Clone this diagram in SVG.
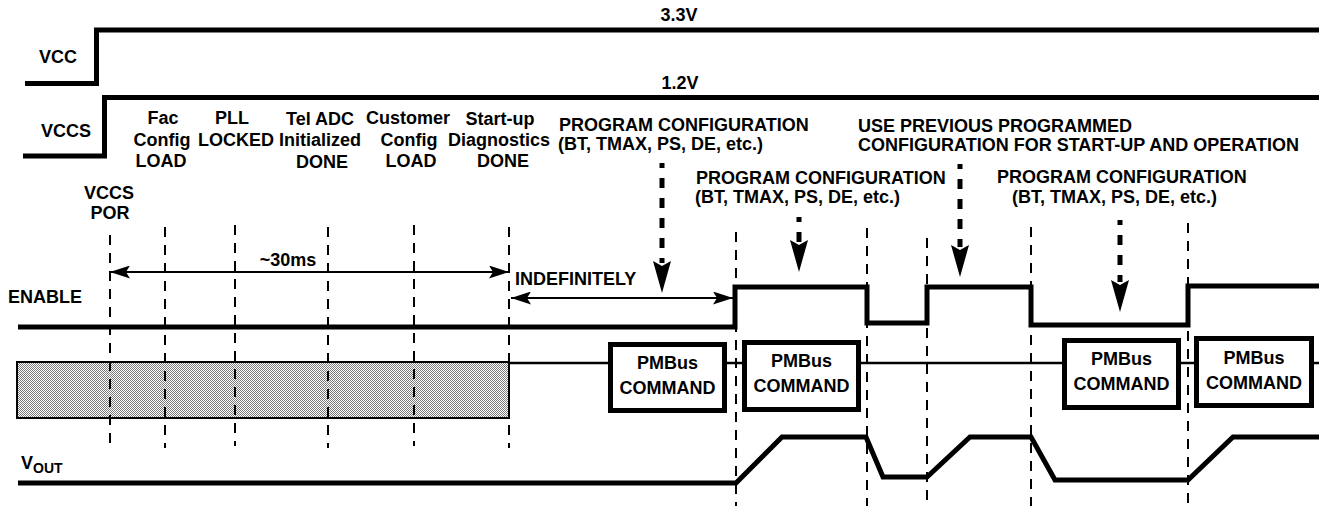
<svg xmlns="http://www.w3.org/2000/svg" width="1319" height="506" viewBox="0 0 1319 506">
<style>
text{font-family:"Liberation Sans",Arial,sans-serif;font-weight:bold;font-size:18px;fill:#000}
.m{text-anchor:middle}
.sig{fill:none;stroke:#000;stroke-width:5;stroke-linejoin:miter}
.thin{fill:none;stroke:#000;stroke-width:2.5}
.box{fill:#fff;stroke:#000;stroke-width:5}
.dl{stroke:#000;stroke-width:2;stroke-dasharray:10 8;fill:none}
.arr{stroke:#000;stroke-width:2;fill:none;marker-start:url(#ah);marker-end:url(#ah)}
.bold{stroke:#000;stroke-width:5;stroke-dasharray:10 10;stroke-dashoffset:5;fill:none;marker-end:url(#big)}
</style>
<defs>
<marker id="ah" viewBox="0 0 20 13" refX="20" refY="6.5" markerWidth="20" markerHeight="13" markerUnits="userSpaceOnUse" orient="auto-start-reverse">
<path d="M0,0 L20,6.5 L0,13 L4,6.5 Z" fill="#000"/>
</marker>
<marker id="big" viewBox="0 0 32 18" refX="2" refY="9" markerWidth="32" markerHeight="18" markerUnits="userSpaceOnUse" orient="auto">
<path d="M0,0 L32,9 L0,18 L5,9 Z" fill="#000"/>
</marker>
<pattern id="dots" width="2" height="2" patternUnits="userSpaceOnUse">
<rect width="2" height="2" fill="#ffffff"/>
<rect width="1" height="1" fill="#7a7a7a"/>
<rect x="1" y="1" width="1" height="1" fill="#7a7a7a"/>
</pattern>
</defs>
<rect width="1319" height="506" fill="#fff"/>

<g id="vcc">
<path class="sig" d="M25,83.5 H96.5 V30 H1319"/>
<text class="m" x="58" y="63">VCC</text>
<text class="m" x="679" y="21">3.3V</text>
</g>
<g id="vccs">
<path class="sig" d="M23,156 H104.5 V97.5 H1319"/>
<text class="m" x="66" y="137">VCCS</text>
<text class="m" x="680" y="89">1.2V</text>
</g>

<g id="startup-labels">
<text class="m" x="163" y="124">Fac</text>
<text class="m" x="162" y="146">Config</text>
<text class="m" x="161" y="167">LOAD</text>
<text class="m" x="232" y="124">PLL</text>
<text class="m" x="236" y="146">LOCKED</text>
<text class="m" x="320" y="125">Tel ADC</text>
<text class="m" x="320" y="146">Initialized</text>
<text class="m" x="322" y="168">DONE</text>
<text class="m" x="408" y="124">Customer</text>
<text class="m" x="409" y="146">Config</text>
<text class="m" x="411" y="167">LOAD</text>
<text class="m" x="500" y="125">Start-up</text>
<text class="m" x="499" y="146">Diagnostics</text>
<text class="m" x="503" y="167">DONE</text>
<text class="m" x="109" y="199">VCCS</text>
<text class="m" x="110" y="219">POR</text>
</g>

<g id="config-labels">
<text x="559" y="131">PROGRAM CONFIGURATION</text>
<text x="558" y="150">(BT, TMAX, PS, DE, etc.)</text>
<text x="858" y="132">USE PREVIOUS PROGRAMMED</text>
<text x="858" y="151">CONFIGURATION FOR START-UP AND OPERATION</text>
<text x="696" y="184">PROGRAM CONFIGURATION</text>
<text x="695" y="203">(BT, TMAX, PS, DE, etc.)</text>
<text x="997" y="183">PROGRAM CONFIGURATION</text>
<text x="1012" y="203">(BT, TMAX, PS, DE, etc.)</text>
</g>

<g id="enable">
<path class="sig" d="M18,327 H735 V287 H867 V323 H927 V287 H1031 V325 H1188 V286 H1319"/>
<text x="8" y="303">ENABLE</text>
</g>

<g id="pmbus-bus">
<line class="thin" x1="509" y1="363" x2="1319" y2="363"/>
<rect x="17" y="362" width="492" height="56" fill="url(#dots)" stroke="#000" stroke-width="2"/>
</g>

<g id="cmd1">
<rect class="box" x="610.5" y="344.5" width="114" height="66"/>
<text class="m" x="667.5" y="369">PMBus</text>
<text class="m" x="667.5" y="394">COMMAND</text>
</g>
<g id="cmd2">
<rect class="box" x="744.5" y="342.5" width="114" height="67"/>
<text class="m" x="801.5" y="367">PMBus</text>
<text class="m" x="801.5" y="392">COMMAND</text>
</g>
<g id="cmd3">
<rect class="box" x="1064.5" y="340.5" width="114" height="67"/>
<text class="m" x="1121.5" y="365">PMBus</text>
<text class="m" x="1121.5" y="390">COMMAND</text>
</g>
<g id="cmd4">
<rect class="box" x="1196.5" y="338.5" width="115" height="67"/>
<text class="m" x="1254" y="364">PMBus</text>
<text class="m" x="1254" y="389">COMMAND</text>
</g>

<g id="vout">
<path class="sig" d="M18,483 H736 L782,437 H866 L883,477 H927 L970,437 H1031 L1055,480 H1188 L1233,437 H1319"/>
<text x="21" y="469">V<tspan font-size="14" dy="4">OUT</tspan></text>
</g>

<g id="connectors">
<line class="dl" x1="110" y1="235" x2="110" y2="448"/>
<line class="dl" x1="165" y1="227" x2="165" y2="448"/>
<line class="dl" x1="235" y1="225" x2="235" y2="446"/>
<line class="dl" x1="328" y1="227" x2="328" y2="448"/>
<line class="dl" x1="414" y1="225" x2="414" y2="446"/>
<line class="dl" x1="509" y1="227" x2="509" y2="448"/>
<line class="dl" x1="736" y1="232" x2="736" y2="506"/>
<line class="dl" x1="867" y1="228" x2="867" y2="506"/>
<line class="dl" x1="927" y1="238" x2="927" y2="506"/>
<line class="dl" x1="1031" y1="227" x2="1031" y2="506"/>
<line class="dl" x1="1188" y1="223" x2="1188" y2="506"/>

<line class="arr" x1="110" y1="272" x2="509" y2="272"/>
<text class="m" x="288" y="266">~30ms</text>
<line class="arr" x1="511" y1="298" x2="733" y2="298"/>
<text x="515" y="285">INDEFINITELY</text>

<line class="bold" x1="662" y1="163" x2="662" y2="263"/>
<line class="bold" x1="799" y1="217" x2="799" y2="242" stroke-dasharray="5 15 10"/>
<line class="bold" x1="960" y1="164" x2="960" y2="247"/>
<line class="bold" x1="1120" y1="220" x2="1120" y2="282"/>
</g>
</svg>
